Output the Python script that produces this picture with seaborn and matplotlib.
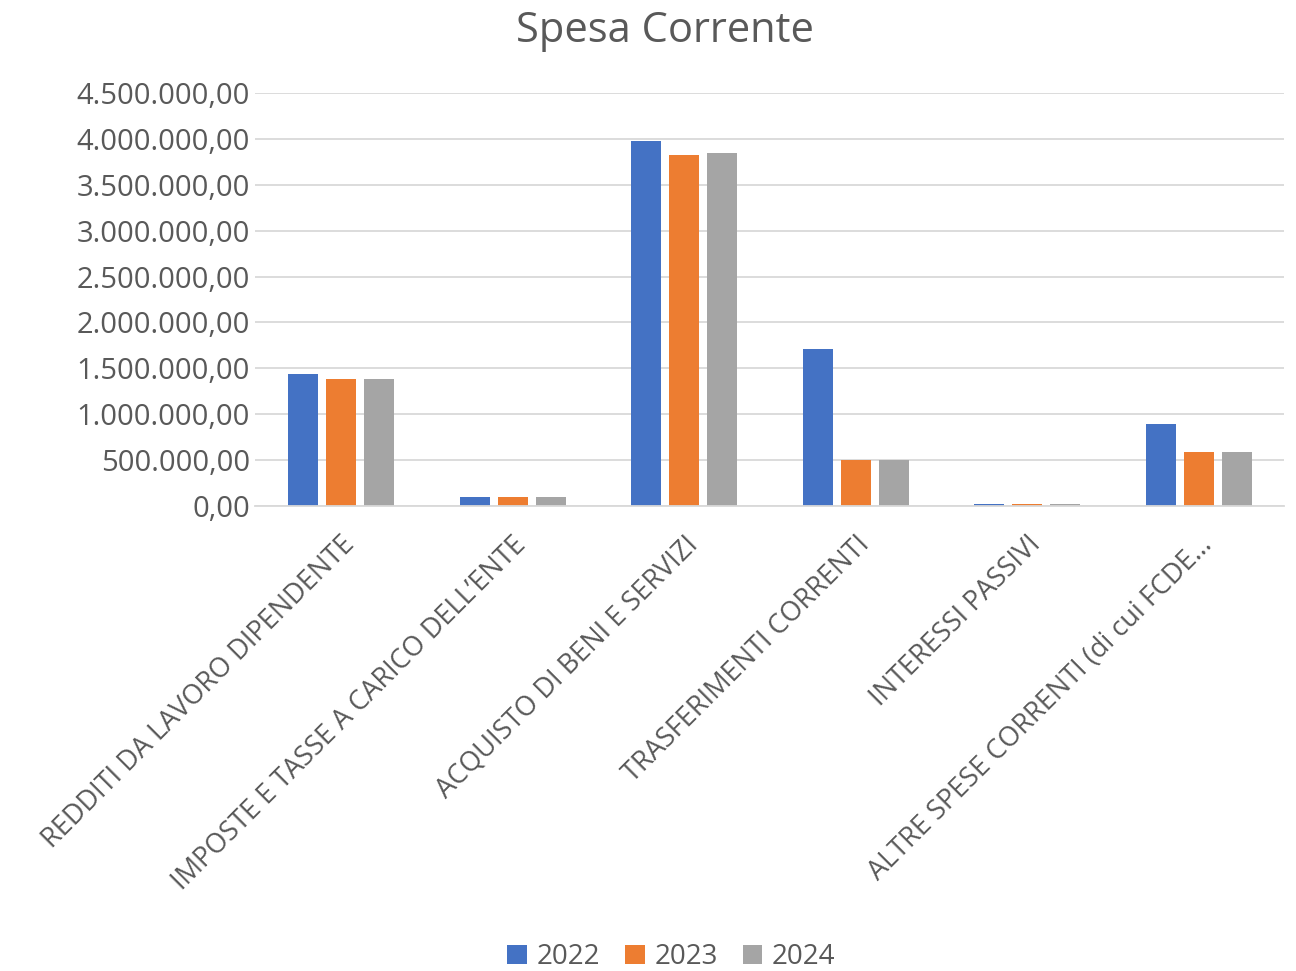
import pandas as pd
import matplotlib
matplotlib.use("Agg")
import matplotlib.pyplot as plt
import seaborn as sns
from matplotlib.ticker import FuncFormatter, MultipleLocator

# Dati
categorie = [
    "REDDITI DA LAVORO DIPENDENTE",
    "IMPOSTE E TASSE A CARICO DELL\u2019ENTE",
    "ACQUISTO DI BENI E SERVIZI",
    "TRASFERIMENTI CORRENTI",
    "INTERESSI PASSIVI",
    "ALTRE SPESE CORRENTI (di cui FCDE\u2026",
]
anni = ["2022", "2023", "2024"]
spesa_2022 = [1438000, 101000, 3980000, 1710000, 25000, 890000]
spesa_2023 = [1380000, 100000, 3824000, 500000, 25000, 585000]
spesa_2024 = [1380000, 100000, 3846000, 500000, 25000, 585000]

df = pd.DataFrame({
    "Categoria": categorie * 3,
    "Anno": [a for a in anni for _ in categorie],
    "Spesa": spesa_2022 + spesa_2023 + spesa_2024,
})

sns.set_theme(style="white")
plt.rcParams["font.family"] = ["Open Sans", "DejaVu Sans"]

fig = plt.figure(figsize=(12.96, 9.71), dpi=100)
ax = fig.add_axes([0.197, 0.479, 0.794, 0.425])

colori = ["#4472C4", "#ED7D31", "#A5A5A5"]
sns.barplot(data=df, x="Categoria", y="Spesa", hue="Anno", palette=colori,
            width=0.664, gap=0.21, ax=ax, saturation=1, linewidth=0,
            legend=True)

ax.set_ylim(0, 4500000)
ax.yaxis.set_major_locator(MultipleLocator(500000))


def formato_it(v, pos):
    s = f"{v:,.2f}"
    return s.replace(",", "X").replace(".", ",").replace("X", ".")


ax.yaxis.set_major_formatter(FuncFormatter(formato_it))
ax.grid(axis="y", color="#D9D9D9", linewidth=1.3)
ax.set_axisbelow(True)
for s in ["top", "right", "left"]:
    ax.spines[s].set_visible(False)
ax.spines["bottom"].set_color("#D9D9D9")
ax.spines["bottom"].set_linewidth(1.3)
ax.tick_params(axis="both", length=0, colors="#595959")
ax.tick_params(axis="y", labelsize=21, pad=4)
ax.tick_params(axis="x", labelsize=19.5, pad=18)
plt.setp(ax.get_xticklabels(), rotation=45, ha="right", rotation_mode="anchor")
ax.set_xlabel("")
ax.set_ylabel("")

fig.suptitle("Spesa Corrente", x=0.513, y=0.968, va="center",
             fontsize=30, color="#595959")

ax.legend_.remove()
handles, labels = ax.get_legend_handles_labels()
fig.legend(handles, labels, loc="center", bbox_to_anchor=(0.518, 0.014), ncol=3,
           frameon=False, fontsize=20, handlelength=0.7, handleheight=0.7,
           columnspacing=0.9, handletextpad=0.35, labelcolor="#595959")

fig.savefig("out.png", dpi=100)
